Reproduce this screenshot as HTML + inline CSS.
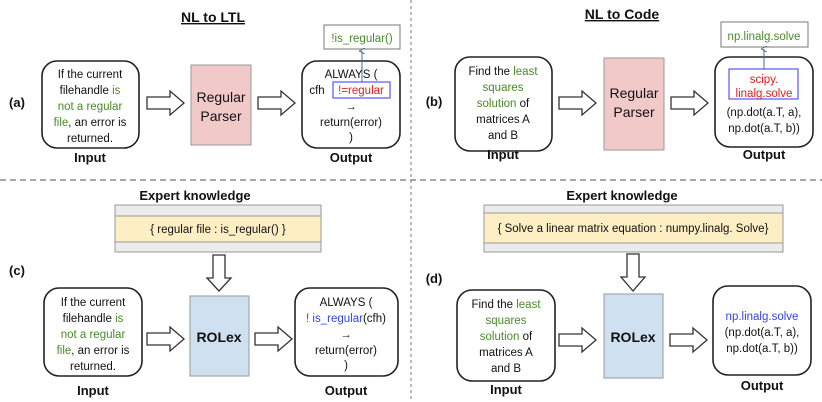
<!DOCTYPE html>
<html><head><meta charset="utf-8"><style>
html,body{margin:0;padding:0;background:#fff;}
svg{display:block;font-family:"Liberation Sans",sans-serif;}
.t{font-size:11.5px;fill:#111;text-anchor:middle;}
.g{fill:#4a8a2a;}
.b{font-weight:bold;}
.lab{font-size:13px;font-weight:bold;fill:#111;text-anchor:middle;}
.box{fill:#fff;stroke:#222;stroke-width:1.6;}
.arr{fill:#fff;stroke:#333;stroke-width:1.3;}
</style></head><body>
<svg width="822" height="402" viewBox="0 0 822 402">
<defs><marker id="ah" markerWidth="6" markerHeight="6" refX="3" refY="3" orient="auto"><path d="M0,6 L3,0 L6,6" fill="none" stroke="#5a6a8a" stroke-width="1"/></marker></defs>
<!-- dividers -->
<line x1="0" y1="180" x2="822" y2="180" stroke="#6a7788" stroke-width="1.2" stroke-dasharray="6,4"/>
<line x1="411" y1="0" x2="411" y2="402" stroke="#777" stroke-width="1" stroke-dasharray="3,3"/>

<!-- Panel a -->
<text x="213" y="22" class="lab" style="font-size:14px" text-decoration="underline">NL to LTL</text>
<text x="17" y="107" class="lab" style="font-size:13px">(a)</text>
<rect x="42" y="61" width="97" height="87" rx="15" class="box"/>
<text class="t" x="90" y="78">If the current</text>
<text class="t" x="90" y="94">filehandle <tspan class="g">is</tspan></text>
<text class="t g" x="90" y="110">not a regular</text>
<text class="t" x="90" y="126"><tspan class="g">file</tspan>, an error is</text>
<text class="t" x="90" y="142">returned.</text>
<text class="lab" x="90" y="162">Input</text>
<polygon class="arr" points="147,97 170,97 170,91 184,103 170,115 170,109 147,109"/>
<rect x="191" y="65" width="60" height="80" fill="#f2c9c9" stroke="#999"/>
<text class="t" x="221" y="102" style="font-size:14px">Regular</text>
<text class="t" x="221" y="121" style="font-size:14px">Parser</text>
<polygon class="arr" points="258,97 281,97 281,91 295,103 281,115 281,109 258,109"/>
<rect x="302" y="61" width="98" height="87" rx="15" class="box"/>
<rect x="324" y="25" width="76" height="24" fill="#fff" stroke="#777"/>
<text class="t g" x="362" y="42">!is_regular()</text>
<text class="t" x="351" y="78">ALWAYS (</text>
<text class="t" x="317" y="94">cfh</text>
<rect x="333" y="82" width="57" height="16" fill="#fff" stroke="#55f" stroke-width="1.2"/>
<text class="t" x="361" y="94" fill="#e02020" style="fill:#e02020">!=regular</text>
<line x1="362" y1="82" x2="362" y2="51" stroke="#5a6a8a" stroke-width="1" marker-end="url(#ah)"/>
<text class="t" x="351" y="110">→</text>
<text class="t" x="351" y="126">return(error)</text>
<text class="t" x="351" y="141">)</text>
<text class="lab" x="351" y="162">Output</text>

<!-- Panel b -->
<text x="622" y="19" class="lab" style="font-size:14px" text-decoration="underline">NL to Code</text>
<text x="434" y="106" class="lab">(b)</text>
<rect x="455" y="57" width="97" height="94" rx="15" class="box"/>
<text class="t" x="503" y="75">Find the <tspan class="g">least</tspan></text>
<text class="t g" x="503" y="91">squares</text>
<text class="t" x="503" y="107"><tspan class="g">solution</tspan> of</text>
<text class="t" x="503" y="123">matrices A</text>
<text class="t" x="503" y="139">and B</text>
<text class="lab" x="503" y="159">Input</text>
<polygon class="arr" points="559,97 582,97 582,91 596,103 582,115 582,109 559,109"/>
<rect x="604" y="58" width="60" height="92" fill="#f2c9c9" stroke="#999"/>
<text class="t" x="634" y="98" style="font-size:14px">Regular</text>
<text class="t" x="634" y="117" style="font-size:14px">Parser</text>
<polygon class="arr" points="671,97 694,97 694,91 708,103 694,115 694,109 671,109"/>
<rect x="715" y="57" width="98" height="90" rx="15" class="box"/>
<rect x="721" y="22" width="87" height="25" fill="#fff" stroke="#777"/>
<text class="t g" x="764" y="40">np.linalg.solve</text>
<rect x="729" y="69" width="69" height="30" fill="#fff" stroke="#55f" stroke-width="1.2"/>
<text class="t" x="764" y="83" style="fill:#e02020">scipy.</text>
<text class="t" x="764" y="97" style="fill:#e02020">linalg.solve</text>
<line x1="764" y1="69" x2="764" y2="49" stroke="#5a6a8a" stroke-width="1" marker-end="url(#ah)"/>
<text class="t" x="764" y="116">(np.dot(a.T, a),</text>
<text class="t" x="764" y="132">np.dot(a.T, b))</text>
<text class="lab" x="764" y="159">Output</text>

<!-- Panel c -->
<text class="lab" x="195" y="200">Expert knowledge</text>
<rect x="115" y="205" width="206" height="47" fill="#ececec" stroke="#999"/>
<rect x="115" y="216" width="206" height="26" fill="#fdeec4" stroke="#999"/>
<text class="t" x="218" y="233">{ regular file : is_regular() }</text>
<polygon class="arr" points="213,255 225,255 225,278 231,278 219,291 207,278 213,278"/>
<text x="17" y="275" class="lab">(c)</text>
<rect x="44" y="288" width="98" height="88" rx="15" class="box"/>
<text class="t" x="93" y="306">If the current</text>
<text class="t" x="93" y="322">filehandle <tspan class="g">is</tspan></text>
<text class="t g" x="93" y="338">not a regular</text>
<text class="t" x="93" y="354"><tspan class="g">file</tspan>, an error is</text>
<text class="t" x="93" y="370">returned.</text>
<text class="lab" x="93" y="395">Input</text>
<polygon class="arr" points="147,333 170,333 170,327 184,339 170,351 170,345 147,345"/>
<rect x="190" y="296" width="59" height="80" fill="#cfe0f0" stroke="#999"/>
<text class="t b" x="219" y="342" style="font-size:14px">ROLex</text>
<polygon class="arr" points="255,333 278,333 278,327 292,339 278,351 278,345 255,345"/>
<rect x="295" y="288" width="103" height="88" rx="15" class="box"/>
<text class="t" x="346" y="306">ALWAYS (</text>
<text class="t" x="346" y="322"><tspan style="fill:#3344ee">! is_regular</tspan>(cfh)</text>
<text class="t" x="346" y="338">→</text>
<text class="t" x="346" y="354">return(error)</text>
<text class="t" x="346" y="369">)</text>
<text class="lab" x="346" y="395">Output</text>

<!-- Panel d -->
<text class="lab" x="622" y="200">Expert knowledge</text>
<rect x="484" y="205" width="299" height="47" fill="#ececec" stroke="#999"/>
<rect x="484" y="213" width="299" height="30" fill="#fdeec4" stroke="#999"/>
<text class="t" x="633" y="232">{ Solve a linear matrix equation : numpy.linalg. Solve}</text>
<polygon class="arr" points="627,254 639,254 639,277 645,277 633,291 621,277 627,277"/>
<text x="434" y="283" class="lab">(d)</text>
<rect x="457" y="290" width="98" height="91" rx="15" class="box"/>
<text class="t" x="506" y="308">Find the <tspan class="g">least</tspan></text>
<text class="t g" x="506" y="324">squares</text>
<text class="t" x="506" y="340"><tspan class="g">solution</tspan> of</text>
<text class="t" x="506" y="356">matrices A</text>
<text class="t" x="506" y="372">and B</text>
<text class="lab" x="506" y="394">Input</text>
<polygon class="arr" points="559,334 582,334 582,328 596,340 582,352 582,346 559,346"/>
<rect x="604" y="294" width="59" height="84" fill="#cfe0f0" stroke="#999"/>
<text class="t b" x="633" y="342" style="font-size:14px">ROLex</text>
<polygon class="arr" points="670,334 693,334 693,328 707,340 693,352 693,346 670,346"/>
<rect x="713" y="286" width="98" height="89" rx="15" class="box"/>
<text class="t" x="762" y="320" style="fill:#3344ee">np.linalg.solve</text>
<text class="t" x="762" y="336">(np.dot(a.T, a),</text>
<text class="t" x="762" y="352">np.dot(a.T, b))</text>
<text class="lab" x="762" y="390">Output</text>
</svg>
</body></html>
